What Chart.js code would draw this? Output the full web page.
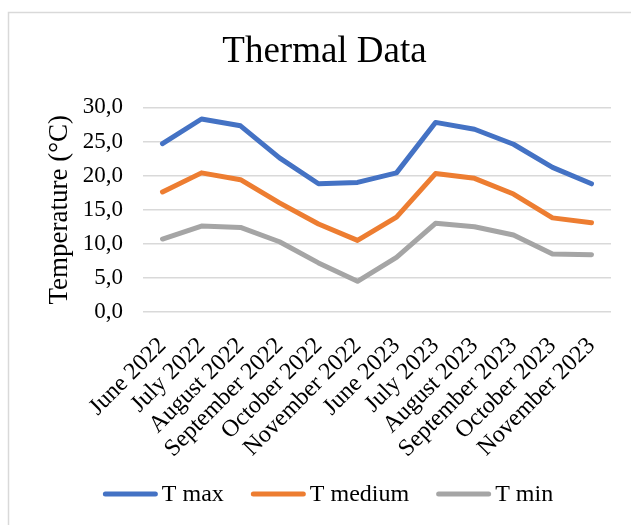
<!DOCTYPE html>
<html>
<head>
<meta charset="utf-8">
<script src="https://cdn.jsdelivr.net/npm/chart.js@4"></script>
<style>
  body { margin: 0; background: #fff; }
  #wrap { width: 631px; height: 525px; position: relative; }
</style>
</head>
<body>
<div id="wrap"><canvas id="myChart" width="631" height="525"></canvas></div>
<script>
// chart data
const months = ['June 2022', 'July 2022', 'August 2022', 'September 2022', 'October 2022', 'November 2022',
                'June 2023', 'July 2023', 'August 2023', 'September 2023', 'October 2023', 'November 2023'];
const tMax = [24.7, 28.3, 27.3, 22.6, 18.8, 19.0, 20.4, 27.8, 26.8, 24.6, 21.2, 18.8];
const tMedium = [17.6, 20.4, 19.4, 16.0, 12.9, 10.5, 13.9, 20.3, 19.6, 17.3, 13.8, 13.1];
const tMin = [10.7, 12.6, 12.4, 10.3, 7.2, 4.5, 8.0, 13.0, 12.5, 11.3, 8.5, 8.4];

const serif = "'Liberation Serif', 'Times New Roman', serif";
Chart.defaults.font.family = serif;
Chart.defaults.color = '#000';

// light grey frame along top and left edge, like the cropped Word chart
const framePlugin = {
    id: 'frame',
    beforeDraw(chart) {
        const ctx = chart.ctx;
        ctx.save();
        ctx.strokeStyle = '#D9D9D9';
        ctx.lineWidth = 1.5;
        ctx.beginPath();
        ctx.moveTo(8.5, 525);
        ctx.lineTo(8.5, 12.5);
        ctx.lineTo(631, 12.5);
        ctx.stroke();
        ctx.restore();
    }
};

// Word style legend: short thick line, small gap, then the label
const wordLegend = {
    id: 'wordLegend',
    afterDraw(chart) {
        const ctx = chart.ctx;
        const sets = chart.data.datasets;
        const lineLen = 55, gap = 4, itemGap = 27, y = 494;
        ctx.save();
        ctx.font = '24px ' + serif;
        ctx.textBaseline = 'middle';
        var total = 0;
        sets.forEach((ds, i) => {
            total += lineLen + gap + ctx.measureText(ds.label).width;
            if (i < sets.length - 1) total += itemGap;
        });
        var x = 328 - total / 2;
        sets.forEach(ds => {
            ctx.strokeStyle = ds.borderColor;
            ctx.lineWidth = 5;
            ctx.lineCap = 'round';
            ctx.beginPath();
            ctx.moveTo(x + 2.5, y);
            ctx.lineTo(x + lineLen - 2.5, y);
            ctx.stroke();
            x += lineLen + gap;
            ctx.fillStyle = '#000';
            ctx.fillText(ds.label, x, y + 1);
            x += ctx.measureText(ds.label).width + itemGap;
        });
        ctx.restore();
    }
};

function line(label, data, color) {
    return {
        label: label,
        data: data,
        borderColor: color,
        backgroundColor: color,
        borderWidth: 5,
        borderCapStyle: 'round',
        borderJoinStyle: 'round',
        pointRadius: 0,
        tension: 0
    };
}

new Chart(document.getElementById('myChart').getContext('2d'), {
    type: 'line',
    data: {
        labels: months,
        datasets: [
            line('T max', tMax, '#4472C4'),
            line('T medium', tMedium, '#ED7D31'),
            line('T min', tMin, '#A5A5A5')
        ]
    },
    options: {
        responsive: false,
        animation: false,
        layout: { padding: { top: 30, left: 38, right: 20, bottom: 55 } },
        plugins: {
            title: {
                display: true,
                text: 'Thermal Data',
                color: '#000',
                font: { family: serif, size: 37, weight: 'normal' },
                padding: { top: 0, bottom: 33 }
            },
            legend: { display: false },
            tooltip: { enabled: false }
        },
        scales: {
            x: {
                offset: true,
                afterFit(scale) { scale.height = 158; },
                grid: { display: false },
                border: { display: false },
                ticks: {
                    color: '#000',
                    font: { family: serif, size: 24 },
                    autoSkip: false,
                    maxRotation: 45,
                    minRotation: 45,
                    padding: 12
                }
            },
            y: {
                min: 0,
                max: 30,
                afterFit(scale) { scale.width = 105; },
                grid: { color: '#D9D9D9', lineWidth: 1.5, drawTicks: false },
                border: { display: false },
                ticks: {
                    stepSize: 5,
                    color: '#000',
                    font: { family: serif, size: 23 },
                    padding: 20,
                    callback: v => v.toFixed(1).replace('.', ',')
                },
                title: {
                    display: true,
                    text: 'Temperature (°C)',
                    color: '#000',
                    font: { family: serif, size: 27 },
                    padding: { top: 6, bottom: 0 }
                }
            }
        }
    },
    plugins: [framePlugin, wordLegend]
});
</script>
</body>
</html>
